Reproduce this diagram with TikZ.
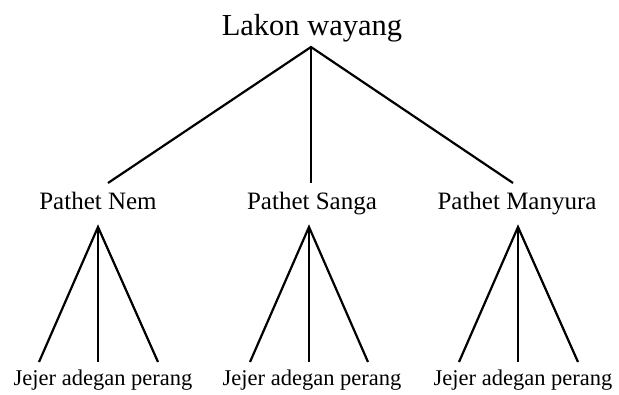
\documentclass[tikz,border=0pt]{standalone}
\usepackage{fontspec}
\setmainfont{Liberation Serif}
\begin{document}
\begin{tikzpicture}[x=1pt,y=-1pt,
  branch/.style={line width=2.2pt,line join=miter},
  toplabel/.style={anchor=base,inner sep=0pt,font=\fontsize{30.5}{32}\selectfont},
  midlabel/.style={anchor=base,inner sep=0pt,font=\fontsize{25}{26}\selectfont},
  leaflabel/.style={anchor=base,inner sep=0pt,font=\fontsize{22.5}{24}\selectfont}]
\useasboundingbox (0,0) rectangle (619,394);
\node[toplabel] (root) at (312,35) {Lakon wayang};
\node[midlabel] (nem) at (98,209) {Pathet Nem};
\node[midlabel] (sanga) at (312,209) {Pathet Sanga};
\node[midlabel] (manyura) at (517,209) {Pathet Manyura};
\node[leaflabel] (j1) at (103,385) {Jejer adegan perang};
\node[leaflabel] (j2) at (312,385) {Jejer adegan perang};
\node[leaflabel] (j3) at (523,385) {Jejer adegan perang};
% top branches
\coordinate (rootT) at (311,47);
\coordinate (rootL) at (108,183);
\coordinate (rootM) at (311,183);
\coordinate (rootR) at (513,183);
\draw[branch] (rootL) -- (rootT) -- (rootR);
\draw[branch] (rootT) -- (rootM);
% Nem
\coordinate (nemT) at (98,227);
\coordinate (nemL) at (39,362);
\coordinate (nemM) at (98,362);
\coordinate (nemR) at (158,362);
\draw[branch] (nemL) -- (nemT) -- (nemR);
\draw[branch] (nemT) -- (nemM);
% Sanga
\coordinate (sanT) at (309,227);
\coordinate (sanL) at (250,362);
\coordinate (sanM) at (309,362);
\coordinate (sanR) at (368,362);
\draw[branch] (sanL) -- (sanT) -- (sanR);
\draw[branch] (sanT) -- (sanM);
% Manyura
\coordinate (manT) at (518,227);
\coordinate (manL) at (459,362);
\coordinate (manM) at (518,362);
\coordinate (manR) at (578,362);
\draw[branch] (manL) -- (manT) -- (manR);
\draw[branch] (manT) -- (manM);
\end{tikzpicture}
\end{document}
